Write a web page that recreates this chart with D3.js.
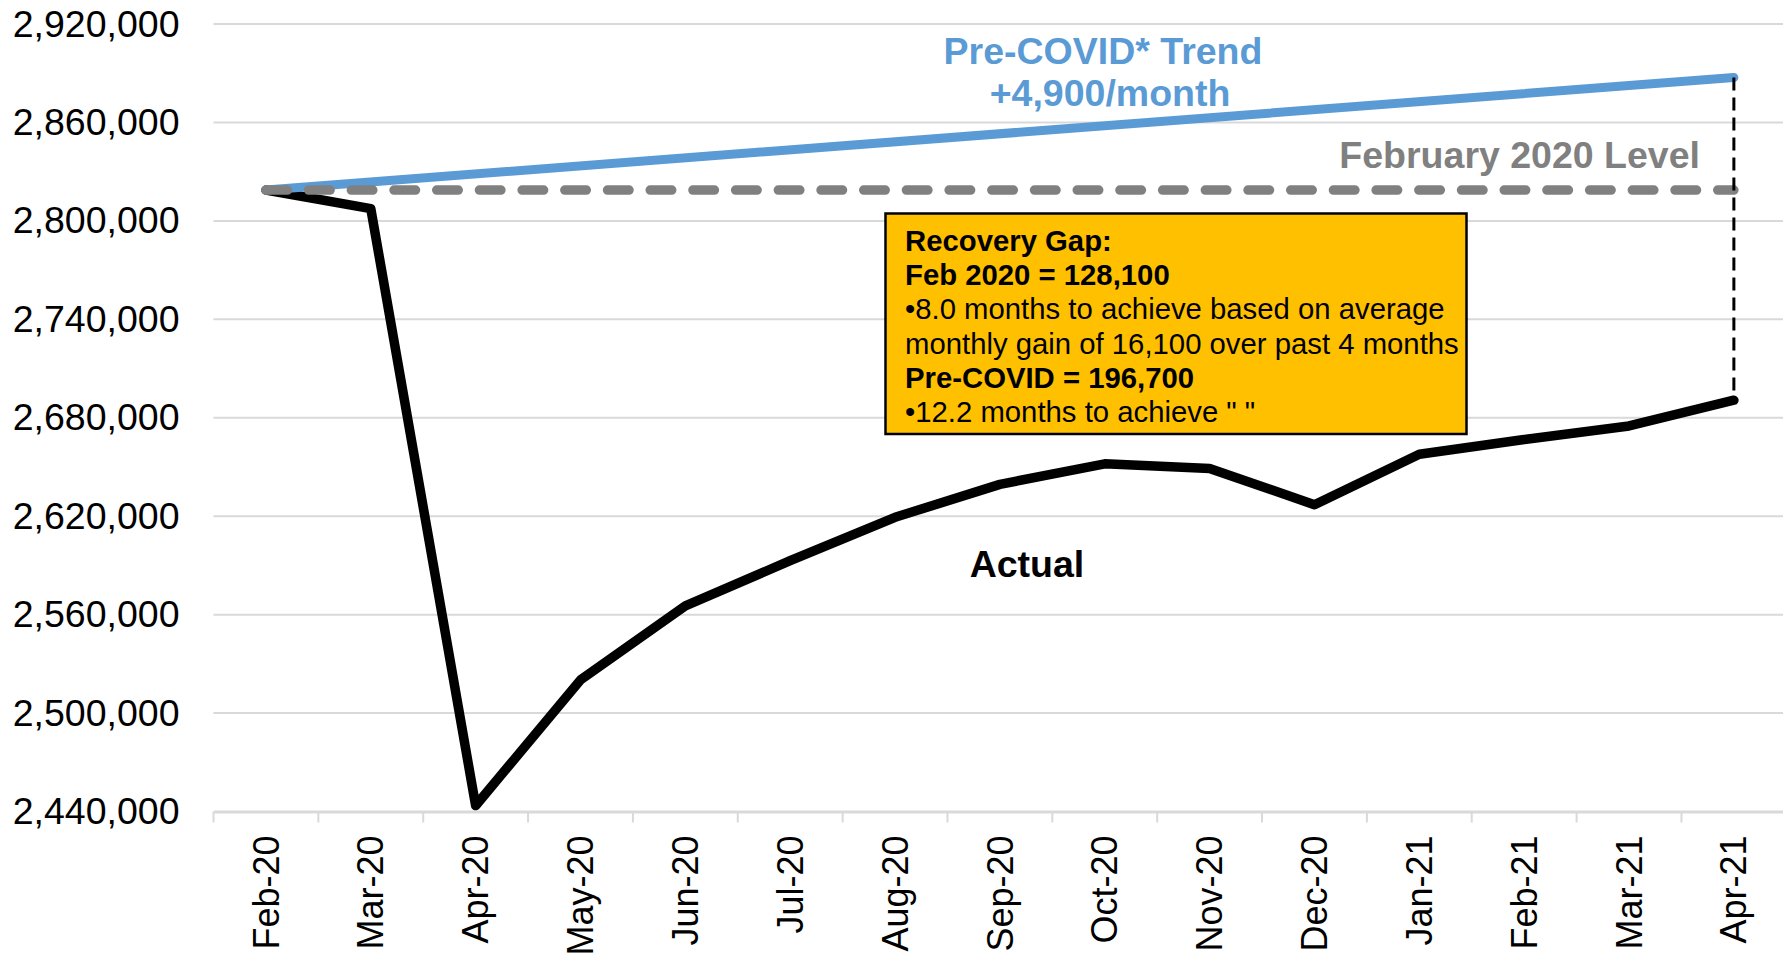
<!DOCTYPE html>
<html>
<head>
<meta charset="utf-8">
<script src="https://cdn.jsdelivr.net/npm/d3@7"></script>
<style>
  body { margin: 0; background: #fff; }
  svg { display: block; font-family: "Liberation Sans", Arial, sans-serif; }
</style>
</head>
<body>
<svg id="chart"></svg>
<script>
// data
var months = ["Feb-20", "Mar-20", "Apr-20", "May-20", "Jun-20", "Jul-20", "Aug-20", "Sep-20",
  "Oct-20", "Nov-20", "Dec-20", "Jan-21", "Feb-21", "Mar-21", "Apr-21"];
var actual = [2818800, 2807500, 2443600, 2520200, 2565300, 2592900, 2619300, 2639400,
  2651900, 2649100, 2627000, 2657800, 2666700, 2675000, 2690700];
var trendMonths = ["Feb-20", "Apr-21"];
var trendValues = [2818800, 2887400];
var febLevelValues = [2818800, 2818800];
var yTicks = [2440000, 2500000, 2560000, 2620000, 2680000, 2740000, 2800000, 2860000, 2920000];
var boxLines = [
  { text: "Recovery Gap:", bold: true },
  { text: "Feb 2020 = 128,100", bold: true },
  { text: "\u20228.0 months to achieve based on average", bold: false },
  { text: "monthly gain of 16,100 over past 4 months", bold: false },
  { text: "Pre-COVID = 196,700", bold: true },
  { text: "\u202212.2 months to achieve \" \"", bold: false }
];

function LineChart() {
  var width = 1783, height = 956;
  var plot = { left: 213.5, right: 1786.3, top: 24, bottom: 811.5 };

  var svg = d3.select("#chart")
    .attr("width", width)
    .attr("height", height);

  var x = d3.scaleBand().domain(months).range([plot.left, plot.right]);
  var y = d3.scaleLinear().domain([2440000, 2920000]).range([plot.bottom, plot.top]);
  var cx = function(m) { return x(m) + x.bandwidth() / 2; };

  // gridlines
  svg.append("g")
    .selectAll("line")
    .data(yTicks.slice(1))
    .enter().append("line")
    .attr("x1", plot.left).attr("x2", width)
    .attr("y1", function(d) { return y(d); })
    .attr("y2", function(d) { return y(d); })
    .attr("stroke", "#d9d9d9")
    .attr("stroke-width", 2);

  // y axis labels, no line
  var yAxis = svg.append("g")
    .attr("transform", "translate(" + plot.left + ",0)")
    .call(d3.axisLeft(y).tickValues(yTicks).tickSize(0).tickPadding(34).tickFormat(d3.format(",")));
  yAxis.select(".domain").remove();
  yAxis.selectAll("text")
    .attr("font-family", "Liberation Sans, Arial, sans-serif")
    .attr("font-size", 37.5)
    .attr("fill", "#000");

  // x axis
  var xAxis = svg.append("g")
    .attr("transform", "translate(0," + plot.bottom + ")")
    .call(d3.axisBottom(x).tickSize(0));
  xAxis.select(".domain").attr("stroke", "#d9d9d9").attr("stroke-width", 3);
  xAxis.selectAll("text")
    .attr("font-family", "Liberation Sans, Arial, sans-serif")
    .attr("font-size", 36)
    .attr("fill", "#000")
    .attr("text-anchor", "end")
    .attr("transform", "rotate(-90)")
    .attr("x", -24)
    .attr("y", 0)
    .attr("dy", "0.35em");

  // tick marks sit between the categories
  svg.append("g")
    .selectAll("line")
    .data(months)
    .enter().append("line")
    .attr("x1", function(d) { return x(d); })
    .attr("x2", function(d) { return x(d); })
    .attr("y1", plot.bottom)
    .attr("y2", plot.bottom + 11)
    .attr("stroke", "#d9d9d9")
    .attr("stroke-width", 2);

  var line = d3.line()
    .x(function(d) { return cx(d[0]); })
    .y(function(d) { return y(d[1]); });

  // actual
  svg.append("path")
    .datum(d3.zip(months, actual))
    .attr("d", line)
    .attr("fill", "none")
    .attr("stroke", "#000")
    .attr("stroke-width", 9.5)
    .attr("stroke-linejoin", "round")
    .attr("stroke-linecap", "round");

  // pre-covid trend
  svg.append("path")
    .datum(d3.zip(trendMonths, trendValues))
    .attr("d", line)
    .attr("fill", "none")
    .attr("stroke", "#5b9bd5")
    .attr("stroke-width", 9)
    .attr("stroke-linecap", "round");

  // february 2020 level
  svg.append("path")
    .datum(d3.zip(trendMonths, febLevelValues))
    .attr("d", line)
    .attr("fill", "none")
    .attr("stroke", "#808080")
    .attr("stroke-width", 9.5)
    .attr("stroke-linecap", "round")
    .attr("stroke-dasharray", "21.5 21.2");

  // gap connector
  var last = months.length - 1;
  svg.append("line")
    .attr("x1", cx(months[last])).attr("x2", cx(months[last]))
    .attr("y1", y(trendValues[1])).attr("y2", y(actual[last]))
    .attr("stroke", "#000")
    .attr("stroke-width", 3)
    .attr("stroke-dasharray", "13 7");

  // labels
  svg.append("text")
    .attr("x", 1103).attr("y", 64)
    .attr("text-anchor", "middle")
    .attr("font-size", 37.5).attr("font-weight", "bold")
    .attr("fill", "#5b9bd5")
    .text("Pre-COVID* Trend");
  svg.append("text")
    .attr("x", 1110).attr("y", 106)
    .attr("text-anchor", "middle")
    .attr("font-size", 37.5).attr("font-weight", "bold")
    .attr("fill", "#5b9bd5")
    .text("+4,900/month");
  svg.append("text")
    .attr("x", 1700).attr("y", 168)
    .attr("text-anchor", "end")
    .attr("font-size", 37.5).attr("font-weight", "bold")
    .attr("fill", "#808080")
    .text("February 2020 Level");
  svg.append("text")
    .attr("x", 1027).attr("y", 577)
    .attr("text-anchor", "middle")
    .attr("font-size", 37.5).attr("font-weight", "bold")
    .attr("fill", "#000")
    .text("Actual");

  // recovery gap box
  svg.append("rect")
    .attr("x", 885.5).attr("y", 213.5)
    .attr("width", 581).attr("height", 220.5)
    .attr("fill", "#ffc000")
    .attr("stroke", "#000")
    .attr("stroke-width", 2.5);

  svg.append("g")
    .selectAll("text")
    .data(boxLines)
    .enter().append("text")
    .attr("x", 905)
    .attr("y", function(d, i) { return 241 + i * 34.1; })
    .attr("dy", "0.35em")
    .attr("font-size", 29.3)
    .attr("font-weight", function(d) { return d.bold ? "bold" : "normal"; })
    .attr("fill", "#000")
    .text(function(d) { return d.text; });
}

LineChart();
</script>
</body>
</html>
